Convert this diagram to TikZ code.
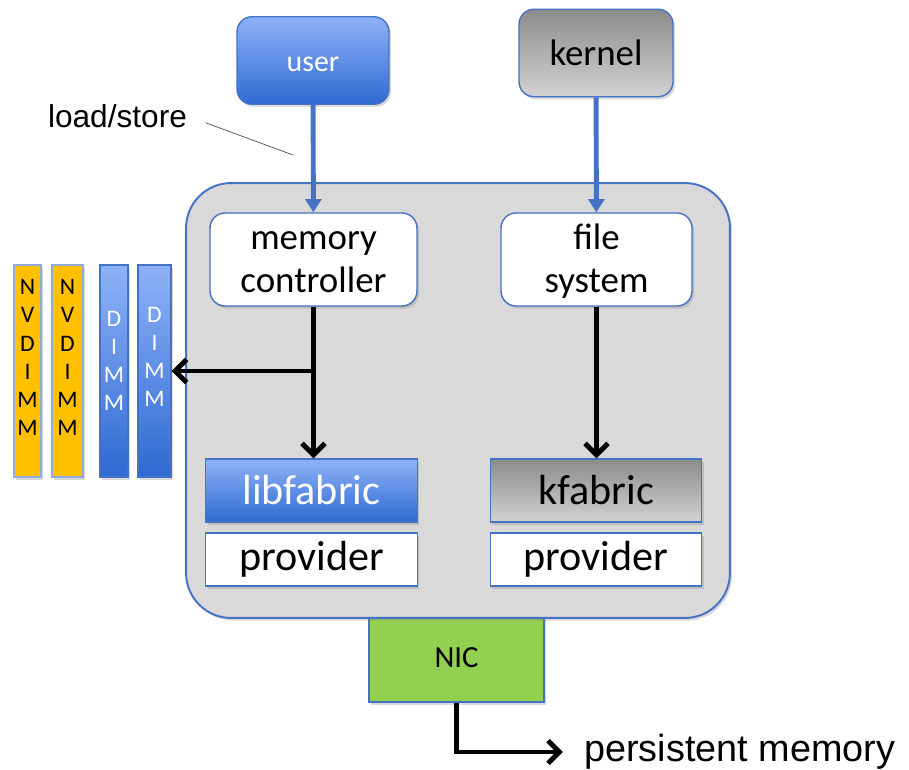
\documentclass[tikz,border=0pt]{standalone}
\usepackage{fontspec}
\setmainfont{Carlito}
\newfontfamily\arialfont{Liberation Sans}
\usetikzlibrary{arrows.meta,shadows}
\definecolor{edgeblue}{RGB}{68,114,196}
\definecolor{usertop}{RGB}{143,178,247}
\definecolor{userbot}{RGB}{46,106,210}
\definecolor{kertop}{RGB}{140,140,140}
\definecolor{kerbot}{RGB}{210,210,210}
\definecolor{hostgray}{RGB}{217,217,217}
\definecolor{nvorange}{RGB}{255,192,0}
\definecolor{nicgreen}{RGB}{146,208,80}

\begin{document}
\begin{tikzpicture}[
x = 0.02cm, y = -0.02cm,
boxshadow/.style={drop shadow={shadow xshift=1.2pt, shadow yshift=-1.5pt, opacity=0.3}},
toprect/.style={rectangle, align = center, draw = edgeblue, line width = 0.8pt,
rounded corners = 0.3cm, minimum height = 1.75cm, boxshadow},
ctlrect/.style={rectangle, align = center, draw = edgeblue, fill = white, line width = 0.8pt,
rounded corners = 0.3cm, minimum height = 1.86cm, text height = 37.5pt, text depth = 0pt,
font = \fontsize{21}{24.5}\selectfont, boxshadow},
fabrect/.style={rectangle, draw = edgeblue, line width = 0.8pt, minimum width = 4.23cm,
minimum height = 1.26cm, text height = 16pt, text depth = 0pt, font = \fontsize{24}{26}\selectfont, boxshadow},
provrect/.style={fabrect, fill = white, minimum height = 1.06cm, text height = 13pt},
hostrect/.style={rectangle, draw = edgeblue, fill = hostgray, line width = 1.1pt,
rounded corners = 0.9cm, minimum width = 10.88cm, minimum height = 8.7cm, boxshadow},
nvbar/.style={rectangle, draw = edgeblue!60, fill = nvorange, line width = 0.8pt,
minimum height = 4.24cm, inner sep = 0, boxshadow},
dimmbar/.style={nvbar, shading = axis, top color = usertop, bottom color = userbot, draw = edgeblue},
bartxt/.style={align = center, inner sep = 0, font = \fontsize{13.5}{16}\selectfont},
bluearr/.style={-{Triangle[width=9pt, length=7.5pt]}, line width = 2.8pt, draw = edgeblue},
blkarr/.style={-{Straight Barb[width=13pt, length=6.5pt]}, line width = 2.8pt, draw = black},
callout/.style={draw = black!70, line width = 0.4pt}]

\useasboundingbox (0,0) rectangle (909,770);

% top boxes
\node[toprect, minimum width = 3.04cm, shading = axis, top color = usertop, bottom color = userbot,
text = white, text height = 12pt, text depth = 0pt, font = \fontsize{17}{20}\selectfont] (user) at (313,60.5) {user};
\node[toprect, minimum width = 3.08cm, shading = axis, top color = kertop, bottom color = kerbot,
font = \fontsize{21}{24}\selectfont] (kernel) at (596,53) {kernel};
\node[font = \arialfont\fontsize{18}{20}\selectfont, inner sep = 0] (ls) at (117.5,116) {load/store};
\coordinate (lstip) at (293,155);

% host
\node[rectangle, draw = edgeblue, fill = nicgreen, line width = 0.8pt, minimum width = 3.5cm,
minimum height = 1.76cm, font = \fontsize{17.5}{20}\selectfont, boxshadow] (nic) at (456.5,658) {NIC};
\node[hostrect] (host) at (458,400.5) {};
\node[ctlrect, minimum width = 4.14cm] (memctrl) at (313.5,259.5) {memory\\controller};
\node[ctlrect, minimum width = 3.82cm] (filesys) at (596.5,259.5) {file\\system};
\node[fabrect, shading = axis, top color = usertop, bottom color = userbot, text = white] (libfab) at (311.5,490.5) {libfabric};
\node[provrect] (prov1) at (311.5,559.5) {provider};
\node[fabrect, shading = axis, top color = kertop, bottom color = kerbot] (kfab) at (596,490.5) {kfabric};
\node[provrect] (prov2) at (596,559.5) {provider};

% memory modules
\node[nvbar, minimum width = 0.54cm] (nv1) at (27.5,371) {};
\node[nvbar, minimum width = 0.62cm] (nv2) at (67.5,371) {};
\node[dimmbar, minimum width = 0.56cm] (dimm1) at (114,371) {};
\node[dimmbar, minimum width = 0.66cm] (dimm2) at (154.5,371) {};
\node[bartxt] (nv1txt) at (27.5,357.5) {N\\V\\D\\I\\M\\M};
\node[bartxt] (nv2txt) at (67.5,357.5) {N\\V\\D\\I\\M\\M};
\node[bartxt, text = white] (dimm1txt) at (114,361) {D\\I\\M\\M};
\node[bartxt, text = white] (dimm2txt) at (154.5,357) {D\\I\\M\\M};

\node[font = \arialfont\fontsize{21.5}{24}\selectfont, anchor = west, inner sep = 0] (pmem) at (584,752) {persistent memory};

% connectors
\draw[callout, shorten <= 11pt] (ls.east) -- (lstip);
\draw[bluearr] (user) -- (memctrl);
\draw[bluearr] (kernel) -- (filesys);
\draw[blkarr] (memctrl.south) -- (memctrl.south |- libfab.north);
\coordinate (branch) at (memctrl.south |- dimm2.east);
\draw[blkarr] (branch) -- (dimm2.east);
\draw[blkarr] (filesys.south) -- (filesys.south |- kfab.north);
\draw[blkarr, shorten >= 12pt] (nic.south) |- (pmem.west);

\end{tikzpicture}
\end{document}
